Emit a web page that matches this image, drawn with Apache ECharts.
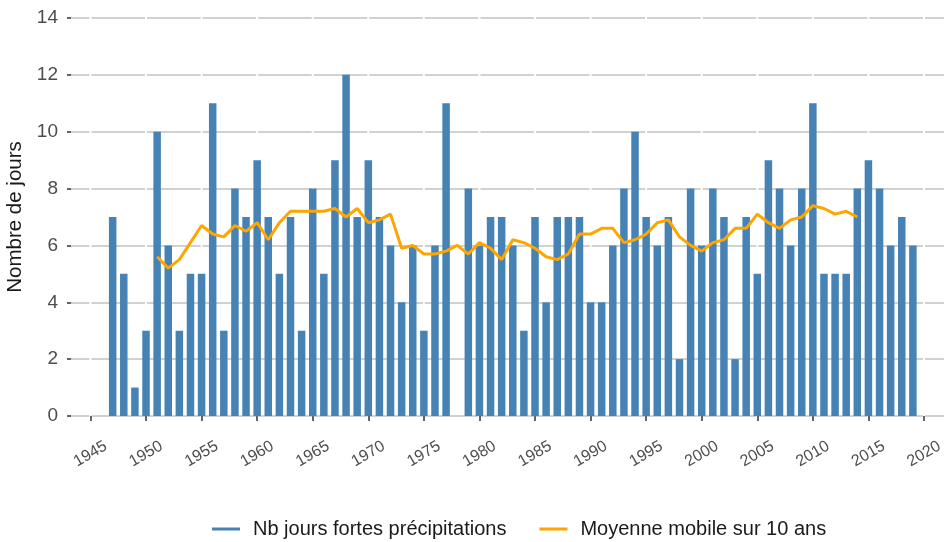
<!DOCTYPE html>
<html>
<head>
<meta charset="utf-8">
<script src="https://cdn.jsdelivr.net/npm/echarts@6/dist/echarts.min.js"></script>
<style>
html,body{margin:0;padding:0;background:#fff}
#chart{width:944px;height:542px}
</style>
</head>
<body>
<div id="chart"></div>
<script>
// nombre de jours de fortes précipitations par an
var annees = [1947,1948,1949,1950,1951,1952,1953,1954,1955,1956,1957,1958,1959,1960,
	1961,1962,1963,1964,1965,1966,1967,1968,1969,1970,1971,1972,1973,1974,1975,1976,
	1977,1978,1979,1980,1981,1982,1983,1984,1985,1986,1987,1988,1989,1990,1991,1992,
	1993,1994,1995,1996,1997,1998,1999,2000,2001,2002,2003,2004,2005,2006,2007,2008,
	2009,2010,2011,2012,2013,2014,2015,2016,2017,2018,2019];
var jours = [7,5,1,3,10,6,3,5,5,11,3,8,7,9,
	7,5,7,3,8,5,9,12,7,9,7,6,4,6,3,6,
	11,0,8,6,7,7,6,3,7,4,7,7,7,4,4,6,
	8,10,7,6,7,2,8,6,8,7,2,7,5,9,8,6,
	8,11,5,5,5,8,9,8,6,7,6];

// moyenne mobile sur 10 ans
var anneesMoyenne = [1951,1952,1953,1954,1955,1956,1957,1958,1959,1960,1961,1962,1963,
	1964,1965,1966,1967,1968,1969,1970,1971,1972,1973,1974,1975,1976,1977,1978,1979,
	1980,1981,1982,1983,1984,1985,1986,1987,1988,1989,1990,1991,1992,1993,1994,1995,
	1996,1997,1998,1999,2000,2001,2002,2003,2004,2005,2006,2007,2008,2009,2010,2011,
	2012,2013,2014];
var moyenne = [5.6,5.2,5.5,6.1,6.7,6.4,6.3,6.7,6.5,6.8,6.2,6.8,7.2,
	7.2,7.2,7.2,7.3,7.0,7.3,6.8,6.9,7.1,5.9,6.0,5.7,5.7,5.8,6.0,5.7,
	6.1,5.9,5.5,6.2,6.1,5.9,5.6,5.5,5.7,6.4,6.4,6.6,6.6,6.1,6.2,6.4,
	6.8,6.9,6.3,6.0,5.8,6.1,6.2,6.6,6.6,7.1,6.8,6.6,6.9,7.0,7.4,7.3,
	7.1,7.2,7.0];

var ticksAnnees = [1945,1950,1955,1960,1965,1970,1975,1980,1985,1990,1995,2000,2005,2010,2015,2020];

var myChart = echarts.init(document.getElementById('chart'));
var police = '"Liberation Sans", Arial, sans-serif';

var option = {
	backgroundColor: '#fff',
	animation: false,
	grid: {
		left: 71,
		right: 0,
		top: 18,
		bottom: 126,
		outerBoundsMode: 'none',
		containLabel: false
	},
	legend: {
		left: 212,
		top: 519,
		padding: 0,
		itemWidth: 28,
		itemHeight: 3,
		itemGap: 33,
		textStyle: {
			fontFamily: police,
			fontSize: 20,
			color: '#1a1a1a',
			padding: [0, 0, 0, 8]
		},
		data: [
			{name: 'Nb jours fortes précipitations', icon: 'rect'},
			{name: 'Moyenne mobile sur 10 ans', icon: 'rect'}
		]
	},
	xAxis: {
		type: 'value',
		min: 1943.25,
		max: 2021.8,
		offset: 20,
		axisLine: {show: false},
		splitLine: {show: false},
		axisTick: {
			show: true,
			customValues: ticksAnnees,
			length: 5,
			lineStyle: {color: '#333', width: 1.5}
		},
		axisLabel: {
			customValues: ticksAnnees,
			formatter: function(v){ return String(v); },
			rotate: 30,
			align: 'center',
			verticalAlign: 'middle',
			margin: 18,
			fontFamily: police,
			fontSize: 16,
			color: '#4d4d4d'
		}
	},
	yAxis: {
		type: 'value',
		min: 0,
		max: 14,
		interval: 2,
		name: 'Nombre de jours',
		nameLocation: 'middle',
		nameRotate: 90,
		nameGap: 42,
		nameTextStyle: {
			fontFamily: police,
			fontSize: 20.5,
			color: '#1a1a1a'
		},
		axisLine: {show: false},
		axisTick: {
			show: true,
			length: 4,
			lineStyle: {color: '#333', width: 1.5}
		},
		axisLabel: {
			margin: 13,
			fontFamily: police,
			fontSize: 19,
			color: '#4d4d4d'
		},
		splitLine: {
			show: true,
			lineStyle: {
				color: '#c2c2c2',
				width: 1.5,
				type: [53.57, 2],
				dashOffset: 35.12
			}
		}
	},
	series: [
		{
			name: 'Nb jours fortes précipitations',
			type: 'bar',
			barWidth: 7.5,
			itemStyle: {color: '#4682B4'},
			data: annees.map(function(a, i){ return [a, jours[i]]; })
		},
		{
			name: 'Moyenne mobile sur 10 ans',
			type: 'line',
			symbol: 'none',
			z: 5,
			itemStyle: {color: '#FFA500'},
			lineStyle: {color: '#FFA500', width: 3},
			data: anneesMoyenne.map(function(a, i){ return [a, moyenne[i]]; })
		}
	]
};
myChart.setOption(option);
</script>
</body>
</html>
